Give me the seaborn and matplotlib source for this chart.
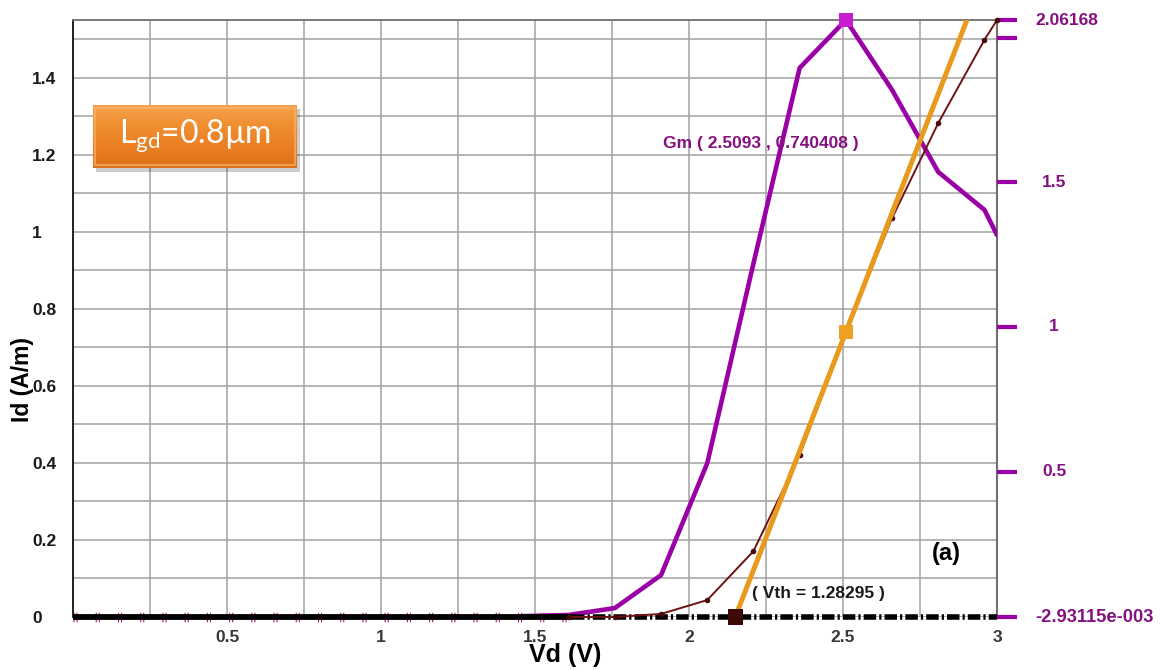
import matplotlib
matplotlib.use("Agg")
import numpy as np
import matplotlib.pyplot as plt
from matplotlib import transforms
from matplotlib.colors import LinearSegmentedColormap
from matplotlib.patches import Rectangle
from matplotlib.ticker import MultipleLocator, FixedLocator
import seaborn as sns

# ---- data -------------------------------------------------------------
vd_id = [1.6093, 1.7593, 1.9093, 2.0593, 2.2093, 2.3593, 2.5093, 2.6593, 2.8093, 2.9593, 3.0]
id_vals = [0.0, 0.0, 0.008, 0.044, 0.171, 0.42, 0.740408, 1.036, 1.283, 1.499, 1.5506]

vd_gm = [1.4593, 1.6093, 1.7593, 1.9093, 2.0593, 2.2093, 2.3593, 2.5093, 2.6593, 2.8093, 2.9593, 3.0]
gm_vals = [0.0, 0.004, 0.028, 0.142, 0.529, 1.22, 1.896, 2.06168, 1.82, 1.536, 1.405, 1.318]

gm_peak_v = 2.5093
gm_peak = 2.06168
id_at_peak = 0.740408
vth_label = 1.28295

gm_axis_min = -2.93115e-003
gm_axis_max = 2.06168
gm_ticks = [gm_axis_min, 0.5, 1.0, 1.5, 2.0, gm_axis_max]
gm_tick_labels = ["-2.93115e-003", "0.5", "1", "1.5", "", "2.06168"]

id_ticks = [0, 0.2, 0.4, 0.6, 0.8, 1.0, 1.2, 1.4]
id_tick_labels = ["0", "0.2", "0.4", "0.6", "0.8", "1", "1.2", "1.4"]
vd_ticks = [0.5, 1.0, 1.5, 2.0, 2.5, 3.0]
vd_tick_labels = ["0.5", "1", "1.5", "2", "2.5", "3"]

# tangent to Id at the Gm maximum -> threshold extrapolation
vth_x = gm_peak_v - id_at_peak / gm_peak
tangent_x = [vth_x, 3.0]
tangent_y = [0.0, gm_peak * (3.0 - vth_x)]

# ---- style ------------------------------------------------------------
sns.set_theme(style="white")
plt.rcParams["font.family"] = ["Liberation Sans", "DejaVu Sans"]
plt.rcParams["lines.scale_dashes"] = False
plt.rcParams["mathtext.fontset"] = "custom"
plt.rcParams["mathtext.rm"] = "Lato"

PURPLE = "#9A00A6"
PURPLE_TXT = "#85107F"
BROWN = "#6E1212"
ORANGE = "#E89A1E"

W, H = 1162, 670
fig = plt.figure(figsize=(W / 100, H / 100), dpi=100)
rect = [73 / W, 1 - 617 / H, (997 - 73) / W, (617 - 20) / H]

# base axes: grid + left scale
ax = fig.add_axes(rect)
ax.set_xlim(0, 3)
ax.set_ylim(0, max(id_vals))
ax.xaxis.set_major_locator(FixedLocator(vd_ticks))
ax.set_xticklabels(vd_tick_labels)
ax.xaxis.set_minor_locator(MultipleLocator(0.25))
ax.yaxis.set_major_locator(FixedLocator(id_ticks))
ax.set_yticklabels(id_tick_labels)
ax.yaxis.set_minor_locator(MultipleLocator(0.1))
ax.grid(True, which="both", color="#a2a2a2", lw=1.1)
ax.set_axisbelow(True)
ax.tick_params(axis="x", which="both", length=0, pad=9, labelsize=12.5,
               labelcolor="#383838")
ax.tick_params(axis="y", which="major", direction="in", length=7, width=1.3,
               color="#333333", pad=29.5, labelsize=12.5, labelcolor="#1a1a1a")
ax.tick_params(axis="y", which="minor", length=0)
for lab in ax.get_xticklabels() + ax.get_yticklabels():
    lab.set_fontweight("bold")
for lab in ax.get_yticklabels():
    lab.set_horizontalalignment("left")
ax.spines["bottom"].set_visible(False)
ax.spines["left"].set_color("#111111")
ax.spines["left"].set_linewidth(1.3)
ax.spines["top"].set_color("#707070")
ax.spines["top"].set_linewidth(1.3)
ax.spines["right"].set_color("#707070")
ax.spines["right"].set_linewidth(1.5)

# transconductance axes (right scale)
ax_gm = fig.add_axes(rect, sharex=ax)
ax_gm.patch.set_visible(False)
ax_gm.set_ylim(gm_axis_min, gm_axis_max)
for s in ax_gm.spines.values():
    s.set_visible(False)
ax_gm.yaxis.tick_right()
ax_gm.yaxis.set_major_locator(FixedLocator(gm_ticks))
ax_gm.set_yticklabels([""] * len(gm_ticks))
ax_gm.tick_params(axis="y", direction="out", length=14.5, width=3.0,
                  color=PURPLE, right=True, left=False)
ax_gm.tick_params(axis="x", bottom=False, labelbottom=False)
sns.lineplot(x=vd_gm, y=gm_vals, ax=ax_gm, color=PURPLE, lw=3.3,
             estimator=None, sort=False, solid_joinstyle="round")
sns.scatterplot(x=[gm_peak_v], y=[gm_peak], ax=ax_gm, marker="s", s=95,
                color="#C81ED0", edgecolor="none", clip_on=False, zorder=5)
ax_gm.set_xlabel("")
ax_gm.set_ylabel("")
ax_gm.set_xlim(0, 3)

lab_tr = transforms.blended_transform_factory(ax_gm.transAxes, ax_gm.transData)
gm_label_x = {"-2.93115e-003": (1.0411, "left"), "0.5": (1.0617, "center"),
              "1": (1.0617, "center"), "1.5": (1.0617, "center"),
              "2.06168": (1.0411, "left")}
for val, txt in zip(gm_ticks, gm_tick_labels):
    if not txt:
        continue
    xx, ha = gm_label_x[txt]
    size = 13.2 if txt.startswith("-") else 12.5
    ax_gm.text(xx, val, txt, transform=lab_tr, ha=ha, va="center",
               fontsize=size, fontweight="bold", color=PURPLE_TXT, clip_on=False)

# drain current axes (left scale, on top)
ax_id = fig.add_axes(rect, sharex=ax, sharey=ax)
ax_id.patch.set_visible(False)
ax_id.axis("off")

# zero reference line: purple ticks under a heavy black line
ax_id.plot([0, 1.6], [0, 0], color="#B0107F", lw=6.8, dashes=(0.8, 1.4, 0.8, 13.0),
           solid_capstyle="butt", clip_on=False, zorder=2)
ax_id.plot([0, 1.62], [0, 0], color="black", lw=4.2, solid_capstyle="butt",
           clip_on=False, zorder=3)
ax_id.plot([1.62, 3.0], [0, 0], color="black", lw=4.0, dashes=(9, 2.2, 1.6, 2.2),
           dash_capstyle="butt", clip_on=False, zorder=3)

sns.lineplot(x=vd_id, y=id_vals, ax=ax_id, color=BROWN, lw=1.4, marker="o",
             markersize=4, markeredgewidth=0, markerfacecolor="#4A0808",
             estimator=None, sort=False, zorder=4, clip_on=False)
sns.lineplot(x=tangent_x, y=tangent_y, ax=ax_id, color=ORANGE, lw=3.6,
             estimator=None, sort=False, zorder=5)
sns.scatterplot(x=[gm_peak_v], y=[id_at_peak], ax=ax_id, marker="s", s=105,
                color="#EEA020", edgecolor="none", zorder=6)
sns.scatterplot(x=[vth_x], y=[0.0], ax=ax_id, marker="s", s=120,
                color="#3E0A06", edgecolor="none", zorder=6, clip_on=False)
ax_id.set_xlim(0, 3)
ax_id.set_ylim(0, max(id_vals))

ax_id.text(1.916, 1.229, f"Gm ( {gm_peak_v} , {id_at_peak} )", ha="left", va="center",
           fontsize=12.5, fontweight="bold", color=PURPLE_TXT, zorder=7)
ax_id.text(2.2045, 0.062, f"( Vth = {vth_label} )", ha="left", va="center",
           fontsize=12.5, fontweight="bold", color="#1a1a1a", zorder=7)
ax_id.text(2.789, 0.166, "(a)", ha="left", va="center",
           fontsize=17, fontweight="bold", color="black", zorder=7)

# axis titles
fig.text(23 / W, 1 - 380 / H, "Id (A/m)", rotation=90, ha="center", va="center",
         fontsize=16.5, fontweight="bold", color="black")
fig.text(565 / W, 1 - 655 / H, "Vd (V)", ha="center", va="center",
         fontsize=18, fontweight="bold", color="black")

# gate-drain length badge with a bevelled orange gradient
bx, by, bw, bh = 93 / W, 1 - 168 / H, 204 / W, 63 / H
fig.patches.append(Rectangle((bx + 3 / W, by - 4 / H), bw, bh, transform=fig.transFigure,
                             facecolor="#000000", alpha=0.2, edgecolor="none", zorder=8))
ax_badge = fig.add_axes([bx, by, bw, bh], zorder=9)
ax_badge.axis("off")
badge_cmap = LinearSegmentedColormap.from_list(
    "badge", ["#F6A44E", "#F08E30", "#EA7F22", "#DD7018"])
ax_badge.imshow(np.linspace(0, 1, 64).reshape(-1, 1), aspect="auto", cmap=badge_cmap,
                extent=(0, 1, 0, 1), origin="upper")
ax_badge.add_patch(Rectangle((0.012, 0.04), 0.976, 0.92, fill=False,
                             edgecolor="#F9B46C", lw=1.2, alpha=0.8))
ax_badge.set_xlim(0, 1)
ax_badge.set_ylim(0, 1)
ax_badge.text(0.5, 0.5, r"L$_{\mathrm{gd}}$=0.8µm", ha="center", va="center",
              fontsize=23, color="white", family=["Lato", "DejaVu Sans"],
              transform=ax_badge.transAxes)

fig.savefig("out.png", dpi=100)
